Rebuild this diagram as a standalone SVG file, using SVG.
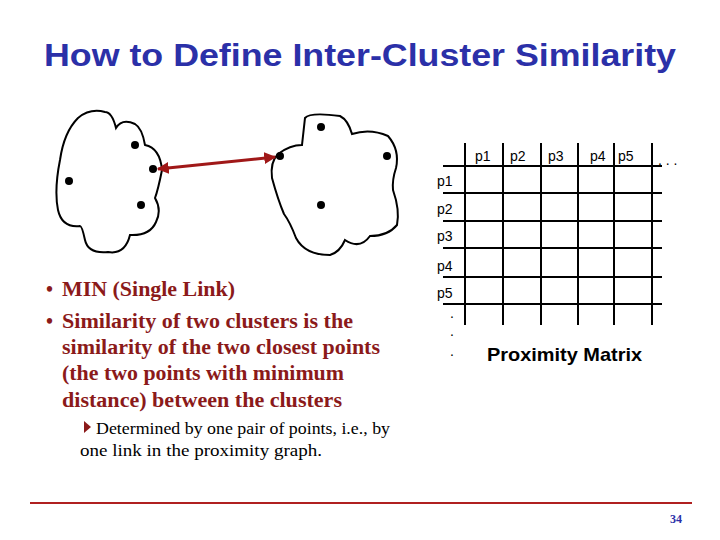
<svg xmlns="http://www.w3.org/2000/svg" width="720" height="540" viewBox="0 0 720 540">
<style>
.t{font-family:"Liberation Sans",Arial,sans-serif;}
.s{font-family:"Liberation Serif","Times New Roman",serif;}
.cl{fill:none;stroke:#000;stroke-width:2}
.g{stroke:#000;stroke-width:2}
.lbl{font-family:"Liberation Sans",Arial,sans-serif;font-size:14px}
.b{font-family:"Liberation Serif",serif;font-size:20px;fill:#8b1a1a;font-weight:bold}
</style>
<defs>
<marker id="ah" viewBox="0 0 10 10" refX="9" refY="5" markerWidth="4" markerHeight="4" orient="auto-start-reverse"><path d="M0,0L10,5L0,10z" fill="#a01818"/></marker>
</defs>
<rect width="720" height="540" fill="#fff"/>
<text class="t" x="44" y="66" font-size="32" font-weight="bold" fill="#2b30a8" textLength="632" lengthAdjust="spacingAndGlyphs">How to Define Inter-Cluster Similarity</text>
<g id="cluster1">
<path class="cl" d="M78,118 Q90,108 105,112 Q112,112 116,128 Q122,118 135,124 Q142,128 145,145 Q160,148 162,170 Q158,190 155,198 Q162,210 156,222 Q150,236 130,235 Q125,255 108,252 Q88,254 85,240 Q82,226 80,226 Q62,228 58,210 Q54,190 60,160 Q64,132 78,118 Z"/>
<circle cx="135" cy="145" r="4"/><circle cx="153" cy="169" r="4"/><circle cx="69" cy="181" r="4"/><circle cx="141" cy="205" r="4"/>
</g>
<g id="cluster2">
<path class="cl" d="M305,118 Q310,112 340,116 Q348,120 352,134 Q370,128 388,136 Q400,150 396,168 Q392,180 393,190 Q400,210 397,225 Q388,236 370,236 Q360,250 345,240 Q340,252 330,255 Q305,255 296,238 Q290,222 284,214 Q278,200 272,178 Q270,162 278,154 Q290,145 302,145 Z"/>
<circle cx="321" cy="127" r="4"/><circle cx="280" cy="156" r="4"/><circle cx="387" cy="156" r="4"/><circle cx="321" cy="205" r="4"/>
</g>
<g id="connectors">
<line x1="158" y1="169" x2="275" y2="157" stroke="#a01818" stroke-width="3" marker-start="url(#ah)" marker-end="url(#ah)"/>
</g>
<g id="matrix">
<g class="g">
<line x1="465" y1="143" x2="465" y2="325"/><line x1="503" y1="143" x2="503" y2="325"/><line x1="541" y1="143" x2="541" y2="325"/><line x1="578" y1="143" x2="578" y2="325"/><line x1="614" y1="143" x2="614" y2="325"/><line x1="652" y1="143" x2="652" y2="325"/>
<line x1="443" y1="166" x2="662" y2="166"/><line x1="443" y1="193" x2="662" y2="193"/><line x1="443" y1="221" x2="662" y2="221"/><line x1="443" y1="248" x2="662" y2="248"/><line x1="443" y1="277" x2="662" y2="277"/><line x1="443" y1="304" x2="662" y2="304"/>
</g>
<text class="lbl" x="475" y="161">p1</text><text class="lbl" x="510" y="161">p2</text><text class="lbl" x="548" y="161">p3</text><text class="lbl" x="590" y="161">p4</text><text class="lbl" x="618" y="161">p5</text>
<text class="lbl" x="658" y="165">. . .</text>
<text class="lbl" x="437" y="186">p1</text><text class="lbl" x="437" y="214">p2</text><text class="lbl" x="437" y="241">p3</text><text class="lbl" x="437" y="271">p4</text><text class="lbl" x="437" y="298">p5</text>
<text class="lbl" x="450" y="318">.</text><text class="lbl" x="450" y="336">.</text><text class="lbl" x="450" y="356">.</text>
<text class="t" x="487" y="361" font-size="19" font-weight="bold" textLength="155" lengthAdjust="spacingAndGlyphs">Proximity Matrix</text>
</g>
<g id="text">
<text class="b" x="46" y="296" font-weight="normal">•</text>
<text class="b" x="62" y="296" textLength="173" lengthAdjust="spacingAndGlyphs">MIN (Single Link)</text>
<text class="b" x="46" y="328" font-weight="normal">•</text>
<text class="b" x="62" y="328" textLength="291" lengthAdjust="spacingAndGlyphs">Similarity of two clusters is the</text>
<text class="b" x="62" y="354" textLength="318" lengthAdjust="spacingAndGlyphs">similarity of the two closest points</text>
<text class="b" x="62" y="380" textLength="282" lengthAdjust="spacingAndGlyphs">(the two points with minimum</text>
<text class="b" x="62" y="407" textLength="280" lengthAdjust="spacingAndGlyphs">distance) between the clusters</text>
<path d="M84,421 L91,427 L84,433 Z" fill="#8b1a1a"/>
<text class="s" x="96" y="434" font-size="17" textLength="294" lengthAdjust="spacingAndGlyphs">Determined by one pair of points, i.e., by</text>
<text class="s" x="80" y="456" font-size="17" textLength="242" lengthAdjust="spacingAndGlyphs">one link in the proximity graph.</text>
</g>
<line x1="30" y1="503" x2="692" y2="503" stroke="#b02020" stroke-width="2"/>
<text class="s" x="676" y="523" font-size="12" font-weight="bold" fill="#2b30a8" text-anchor="middle">34</text>
</svg>
